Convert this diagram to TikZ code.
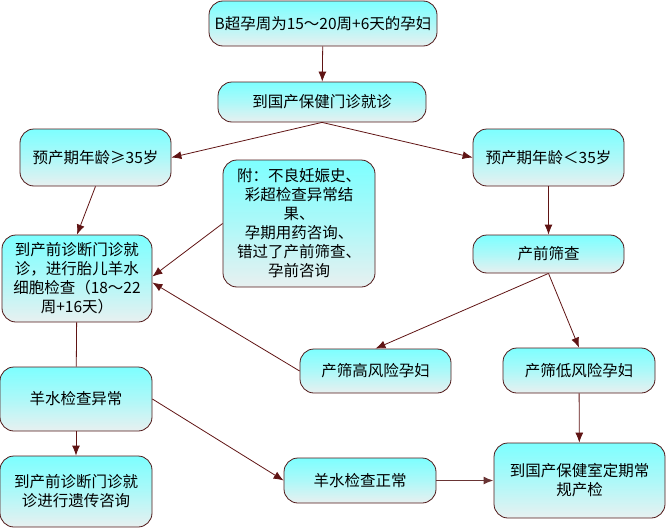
\documentclass[tikz,border=0pt]{standalone}
\usepackage{fontspec}
\setmainfont{Noto Sans CJK SC}
\usepackage{tikz}
\usetikzlibrary{positioning,calc,arrows.meta}

\definecolor{boxtop}{RGB}{125,255,255}
\definecolor{boxbot}{RGB}{232,240,240}
\definecolor{edge}{RGB}{80,24,24}
\definecolor{wire}{RGB}{96,20,20}

\tikzset{
  flowbox/.style={draw=edge, line width=0.8pt, rounded corners=14pt,
    top color=boxtop, bottom color=boxbot, middle color=boxtop!55!boxbot,
    align=center, inner sep=2pt, font=\fontsize{15.5}{19}\selectfont},
  link/.style={draw=wire, line width=0.8pt, -{Latex[length=10pt,width=8pt]}},
}

\begin{document}
\begin{tikzpicture}[x=1pt,y=-1pt]

\useasboundingbox (0,0) rectangle (667,530);


\node[flowbox, minimum width=228pt, minimum height=45pt] (start) at (323,23.5) {B超孕周为15～20周+6天的孕妇};
\node[flowbox, minimum width=208pt, minimum height=40pt] (clinic) at (322,102) {到国产保健门诊就诊};

\node[flowbox, minimum width=151pt, minimum height=57pt] (old) at (95.5,157.5) {预产期年龄≥35岁};
\node[flowbox, minimum width=151pt, minimum height=57pt] (young) at (548.5,157.5) {预产期年龄＜35岁};

\node[flowbox, minimum width=152pt, minimum height=127pt] (note) at (299,223.5)
  {附：不良妊娠史、\\彩超检查异常结\\果、\\孕期用药咨询、\\错过了产前筛查、\\孕前咨询};

\node[flowbox, minimum width=150pt, minimum height=87pt] (diag) at (77,278.5)
  {到产前诊断门诊就\\诊，进行胎儿羊水\\细胞检查（18～22\\周+16天）};
\node[flowbox, minimum width=151pt, minimum height=38pt] (screen) at (548.5,254) {产前筛查};

\node[flowbox, minimum width=151pt, minimum height=44pt] (high) at (375.5,371) {产筛高风险孕妇};
\node[flowbox, minimum width=152pt, minimum height=45pt] (low) at (579,370.5) {产筛低风险孕妇};

\node[flowbox, minimum width=152pt, minimum height=64pt] (abnormal) at (76,399) {羊水检查异常};
\node[flowbox, minimum width=152pt, minimum height=71pt] (genetic) at (76,491.5) {到产前诊断门诊就\\诊进行遗传咨询};
\node[flowbox, minimum width=152pt, minimum height=45pt] (normal) at (360,480.5) {羊水检查正常};
\node[flowbox, minimum width=171pt, minimum height=75pt] (routine) at (579.5,480.5) {到国产保健室定期常\\规产检};

%\draw[help lines] (0,0) grid[step=50] (667,530);

\draw[link] (start) -- (clinic);
\draw[link] (clinic.south) -- (old.east);
\draw[link] (clinic.south) -- (young.west);
\draw[link] (old.south) -- (diag.north);
\draw[link] (young) -- (screen);
\draw[link] (note.west) -- ([yshift=2pt]diag.east);
\draw[link] (high.west) -- ([yshift=-4pt]diag.east);
\draw[link] (screen.south) -- (high.north);
\draw[link] (screen.south) -- (low.north);
\draw[draw=wire, line width=0.8pt] (diag) -- (abnormal);
\draw[link] (abnormal) -- (genetic);
\draw[link] (abnormal.east) -- (normal.west);
\draw[link, line width=1.6pt, draw=wire!70!gray] (normal) -- (routine);
\draw[link] (low) -- (routine);

\end{tikzpicture}
\end{document}
